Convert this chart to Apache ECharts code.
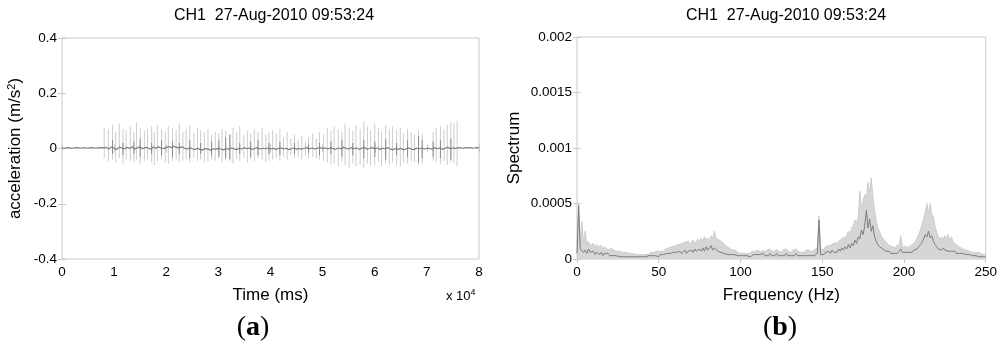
<!DOCTYPE html>
<html>
<head>
<meta charset="utf-8">
<script src="https://cdn.jsdelivr.net/npm/echarts@6/dist/echarts.min.js"></script>
<style>
  html, body { margin: 0; padding: 0; background: #fff; }
  #main { width: 1000px; height: 350px; }
</style>
</head>
<body>
<div id="main"></div>
<script>
// ---- panel (a): acceleration vs time ----
const titleText = 'CH1  27-Aug-2010 09:53:24';

// slow baseline, sampled every 500 ms from 0 to 80000
const baseStep = 500;
const baseValues = [
  0.002, 0.001, 0.003, 0.002, 0.001, 0.002, 0.003, 0.001, 0.002, 0.002, 0.001, 0.003, 0.002, 0.001, 0.002, 0.003, 0.002,
  0.004, -0.002, 0.006, 0.001, -0.003, 0.005, 0.002, -0.001, 0.004, 0.000, 0.006, -0.002, 0.003, 0.005, -0.001, 0.004, 0.002, -0.003, 0.005, 0.001, 0.006, 0.002, -0.001, 0.004,
  0.007, 0.003, 0.008, 0.004, 0.002, 0.006, 0.001, -0.002, 0.003, -0.001, -0.004, 0.001, -0.003, -0.005, 0.000, -0.002, -0.006, -0.001, -0.003, 0.001,
  -0.002, -0.005, 0.000, -0.003, 0.002, -0.001, -0.004, 0.001, -0.002, 0.003, -0.001, 0.002, -0.003, 0.000, 0.003, -0.002, 0.001, -0.001, 0.002, -0.002,
  0.001, -0.003, 0.000, 0.002, -0.002, 0.001, -0.004, -0.001, 0.002, -0.003, 0.000, -0.002, 0.001, 0.003, -0.001, 0.002, -0.002, 0.001, 0.003, 0.000,
  0.002, -0.002, 0.003, 0.000, -0.003, 0.002, -0.001, 0.004, 0.001, -0.002, 0.003, -0.001, 0.002, -0.003, 0.001, 0.004, -0.002, 0.000, 0.003, -0.001,
  0.002, -0.003, 0.001, -0.001, 0.003, -0.002, -0.004, 0.000, -0.003, 0.001, -0.005, -0.001, 0.002, -0.002, -0.004, 0.001, -0.001, 0.002, -0.002, 0.001,
  0.000, -0.002, 0.003, -0.001, 0.002, -0.003, 0.001, 0.004, -0.001, 0.002, 0.000, 0.003,
  0.002, 0.001, 0.003, 0.002, 0.002, 0.001, 0.003, 0.002
];

// light grey impulses (time in ms, peak, trough)
const spikeTimes = [
  8100, 8900, 9700, 10300, 11000, 11700, 12300, 13100, 13800, 14300,
  15000, 15800, 16400, 17200, 17700, 18300, 19100, 19800, 20400, 21200,
  21900, 22500, 23200, 23800, 24500, 25300, 26000, 26600, 27300, 28000,
  28700, 29400, 30100, 30700, 31400, 32200, 32800, 33500, 34100, 34900,
  35600, 36200, 36900, 37600, 38400, 39100, 39700, 40400, 41100, 41800,
  42500, 43200, 43900, 44600, 45300, 46000, 46700, 47300, 48100, 48800,
  49400, 50200, 50900, 51600, 52200, 53000, 53700, 54300, 55100, 55800,
  56400, 57200, 57900, 58600, 59200, 60000, 60700, 61300, 62100, 62800,
  63400, 64200, 64900, 65500, 66300, 67000, 67600, 68400, 69100,
  71200, 71800, 72600, 73300, 73900, 74600, 75200, 75800
];
const spikeHigh = [
  0.075, 0.07, 0.085, 0.06, 0.09, 0.07, 0.065, 0.08, 0.06, 0.095,
  0.075, 0.065, 0.07, 0.08, 0.06, 0.085, 0.07, 0.06, 0.08, 0.075,
  0.065, 0.09, 0.06, 0.07, 0.085, 0.055, 0.075, 0.065, 0.06, 0.07,
  0.05, 0.06, 0.055, 0.07, 0.065, 0.05, 0.075, 0.06, 0.08, 0.05,
  0.065, 0.055, 0.07, 0.06, 0.075, 0.05, 0.06, 0.065, 0.055, 0.07,
  0.04, 0.06, 0.035, 0.05, 0.03, 0.045, 0.025, 0.04, 0.055, 0.035,
  0.06, 0.05, 0.075, 0.065, 0.08, 0.07, 0.06, 0.09, 0.075, 0.065,
  0.085, 0.07, 0.1, 0.08, 0.065, 0.09, 0.075, 0.06, 0.085, 0.07,
  0.08, 0.065, 0.075, 0.055, 0.07, 0.06, 0.05, 0.065, 0.055,
  0.06, 0.075, 0.08, 0.07, 0.085, 0.095, 0.09, 0.1
];
const spikeLow = [
  -0.035, -0.045, -0.04, -0.05, -0.035, -0.055, -0.04, -0.045, -0.05, -0.04,
  -0.055, -0.045, -0.04, -0.05, -0.06, -0.045, -0.04, -0.05, -0.055, -0.045,
  -0.04, -0.05, -0.045, -0.04, -0.05, -0.035, -0.045, -0.04, -0.05, -0.045,
  -0.04, -0.045, -0.035, -0.05, -0.04, -0.045, -0.055, -0.04, -0.045, -0.035,
  -0.05, -0.04, -0.045, -0.035, -0.04, -0.05, -0.045, -0.04, -0.035, -0.045,
  -0.03, -0.04, -0.025, -0.035, -0.03, -0.04, -0.025, -0.035, -0.03, -0.035,
  -0.04, -0.045, -0.05, -0.06, -0.055, -0.065, -0.05, -0.06, -0.07, -0.055,
  -0.065, -0.06, -0.07, -0.055, -0.065, -0.06, -0.05, -0.065, -0.055, -0.06,
  -0.05, -0.06, -0.065, -0.05, -0.055, -0.045, -0.05, -0.06, -0.055,
  -0.045, -0.05, -0.055, -0.045, -0.06, -0.05, -0.055, -0.065
];

// darker, shorter impulses riding on the baseline
const darkTimes = [
  9700, 11700, 13800, 15000, 17200, 19100, 21200, 22500, 24500, 26600,
  28700, 30100, 31400, 32200, 34100, 36200, 37600, 39700, 41800, 44600,
  47300, 49400, 51600, 53700, 55800, 57900, 60000, 62100, 64200, 66300,
  68400, 69100, 71200, 72600, 74600
];
const darkHigh = [
  0.03, 0.02, 0.025, 0.035, 0.02, 0.03, 0.025, 0.02, 0.03, 0.02,
  0.025, 0.03, 0.04, 0.05, 0.02, 0.025, 0.03, 0.02, 0.025, 0.02,
  0.015, 0.02, 0.025, 0.03, 0.02, 0.03, 0.025, 0.035, 0.02, 0.03,
  0.045, 0.03, 0.025, 0.03, 0.035
];
const darkLow = [
  -0.02, -0.025, -0.02, -0.03, -0.02, -0.025, -0.03, -0.02, -0.035, -0.02,
  -0.025, -0.03, -0.035, -0.04, -0.02, -0.03, -0.025, -0.02, -0.025, -0.02,
  -0.015, -0.025, -0.02, -0.03, -0.025, -0.035, -0.03, -0.04, -0.025, -0.03,
  -0.05, -0.035, -0.03, -0.035, -0.04
];

// ---- panel (b): spectrum, one value per Hz from 0 to 250 ----
const specEnvelope = [
  1.2e-4, 5.0e-4, 1.5e-4, 3.4e-4, 1.4e-4, 2.5e-4, 1.3e-4, 1.6e-4, 1.2e-4, 1.1e-4,
  1.4e-4, 1.0e-4, 1.3e-4, 1.1e-4, 1.0e-4, 1.2e-4, 0.9e-4, 1.1e-4, 0.9e-4, 1.0e-4,
  0.8e-4, 1.0e-4, 0.8e-4, 0.9e-4, 0.7e-4, 0.8e-4, 0.7e-4, 0.8e-4, 0.6e-4, 0.7e-4,
  0.6e-4, 0.7e-4, 0.5e-4, 0.6e-4, 0.5e-4, 0.6e-4, 0.4e-4, 0.5e-4, 0.4e-4, 0.5e-4,
  0.4e-4, 0.5e-4, 0.4e-4, 0.5e-4, 0.4e-4, 0.6e-4, 0.5e-4, 0.6e-4, 0.5e-4, 0.7e-4,
  0.6e-4, 0.7e-4, 0.8e-4, 0.7e-4, 0.9e-4, 0.8e-4, 1.0e-4, 0.9e-4, 1.1e-4, 1.0e-4,
  1.2e-4, 1.1e-4, 1.3e-4, 1.2e-4, 1.4e-4, 1.3e-4, 1.5e-4, 1.4e-4, 1.6e-4, 1.3e-4,
  1.5e-4, 1.7e-4, 1.4e-4, 1.6e-4, 1.8e-4, 1.5e-4, 1.9e-4, 1.6e-4, 2.0e-4, 1.7e-4,
  1.9e-4, 1.6e-4, 2.1e-4, 1.8e-4, 2.5e-4, 1.9e-4, 2.0e-4, 1.7e-4, 1.8e-4, 1.5e-4,
  1.4e-4, 1.2e-4, 1.1e-4, 1.0e-4, 0.9e-4, 0.8e-4, 0.7e-4, 0.8e-4, 0.6e-4, 0.7e-4,
  0.5e-4, 0.6e-4, 0.5e-4, 0.6e-4, 0.5e-4, 0.6e-4, 0.5e-4, 0.7e-4, 0.6e-4, 0.7e-4,
  0.6e-4, 0.8e-4, 0.6e-4, 0.7e-4, 0.8e-4, 0.6e-4, 0.8e-4, 0.7e-4, 0.9e-4, 0.7e-4,
  0.8e-4, 0.7e-4, 0.9e-4, 0.7e-4, 0.8e-4, 0.6e-4, 0.8e-4, 0.7e-4, 0.9e-4, 0.7e-4,
  0.8e-4, 0.6e-4, 0.8e-4, 0.7e-4, 0.9e-4, 0.7e-4, 0.8e-4, 0.6e-4, 0.7e-4, 0.6e-4,
  0.8e-4, 0.7e-4, 0.8e-4, 0.6e-4, 0.7e-4, 0.8e-4, 0.7e-4, 1.0e-4, 3.9e-4, 0.9e-4,
  1.0e-4, 0.8e-4, 1.1e-4, 1.0e-4, 1.2e-4, 1.1e-4, 1.3e-4, 1.2e-4, 1.5e-4, 1.3e-4,
  1.6e-4, 1.5e-4, 1.8e-4, 2.0e-4, 1.8e-4, 2.2e-4, 2.5e-4, 2.3e-4, 2.8e-4, 3.0e-4,
  3.5e-4, 3.2e-4, 3.8e-4, 6.1e-4, 4.5e-4, 5.2e-4, 5.8e-4, 5.5e-4, 6.9e-4, 6.0e-4,
  7.3e-4, 5.6e-4, 4.4e-4, 3.4e-4, 2.8e-4, 2.5e-4, 2.1e-4, 1.9e-4, 1.7e-4, 1.5e-4,
  1.4e-4, 1.2e-4, 1.3e-4, 1.1e-4, 1.2e-4, 1.0e-4, 1.3e-4, 1.1e-4, 2.1e-4, 1.2e-4,
  1.0e-4, 1.2e-4, 1.0e-4, 1.1e-4, 1.2e-4, 1.3e-4, 1.4e-4, 1.6e-4, 1.7e-4, 2.2e-4,
  2.6e-4, 3.1e-4, 3.6e-4, 4.2e-4, 5.0e-4, 4.1e-4, 5.0e-4, 4.0e-4, 3.8e-4, 2.9e-4,
  2.4e-4, 2.0e-4, 1.8e-4, 2.0e-4, 1.7e-4, 2.1e-4, 1.8e-4, 2.2e-4, 1.6e-4, 2.0e-4,
  1.5e-4, 1.4e-4, 1.3e-4, 1.2e-4, 1.1e-4, 1.0e-4, 0.9e-4, 1.0e-4, 0.8e-4, 0.9e-4,
  0.7e-4, 0.8e-4, 0.6e-4, 0.7e-4, 0.6e-4, 0.5e-4, 0.6e-4, 0.5e-4, 0.4e-4, 0.5e-4,
  0.4e-4
];
const specMean = [
  0.5e-4, 4.8e-4, 0.9e-4, 1.0e-4, 0.6e-4, 0.8e-4, 0.5e-4, 0.9e-4, 0.6e-4, 0.5e-4,
  0.7e-4, 0.4e-4, 0.6e-4, 0.5e-4, 0.4e-4, 0.6e-4, 0.3e-4, 0.5e-4, 0.4e-4, 0.5e-4,
  0.3e-4, 0.4e-4, 0.3e-4, 0.4e-4, 0.3e-4, 0.4e-4, 0.2e-4, 0.3e-4, 0.2e-4, 0.3e-4,
  0.2e-4, 0.3e-4, 0.2e-4, 0.3e-4, 0.2e-4, 0.2e-4, 0.2e-4, 0.3e-4, 0.2e-4, 0.2e-4,
  0.2e-4, 0.3e-4, 0.2e-4, 0.2e-4, 0.3e-4, 0.2e-4, 0.3e-4, 0.2e-4, 0.3e-4, 0.3e-4,
  0.2e-4, 0.4e-4, 0.3e-4, 0.4e-4, 0.3e-4, 0.5e-4, 0.4e-4, 0.5e-4, 0.4e-4, 0.6e-4,
  0.5e-4, 0.6e-4, 0.5e-4, 0.7e-4, 0.5e-4, 0.6e-4, 0.8e-4, 0.5e-4, 0.7e-4, 0.6e-4,
  0.8e-4, 0.6e-4, 0.9e-4, 0.7e-4, 0.6e-4, 0.9e-4, 0.7e-4, 1.0e-4, 0.7e-4, 1.1e-4,
  0.8e-4, 0.9e-4, 1.2e-4, 0.8e-4, 1.0e-4, 0.9e-4, 0.7e-4, 0.8e-4, 0.6e-4, 0.7e-4,
  0.5e-4, 0.6e-4, 0.4e-4, 0.5e-4, 0.4e-4, 0.3e-4, 0.4e-4, 0.3e-4, 0.3e-4, 0.2e-4,
  0.3e-4, 0.2e-4, 0.3e-4, 0.2e-4, 0.3e-4, 0.3e-4, 0.2e-4, 0.3e-4, 0.4e-4, 0.3e-4,
  0.4e-4, 0.3e-4, 0.4e-4, 0.3e-4, 0.5e-4, 0.3e-4, 0.4e-4, 0.3e-4, 0.5e-4, 0.3e-4,
  0.4e-4, 0.3e-4, 0.5e-4, 0.3e-4, 0.4e-4, 0.3e-4, 0.4e-4, 0.3e-4, 0.5e-4, 0.3e-4,
  0.4e-4, 0.3e-4, 0.4e-4, 0.3e-4, 0.5e-4, 0.3e-4, 0.4e-4, 0.3e-4, 0.4e-4, 0.3e-4,
  0.4e-4, 0.3e-4, 0.4e-4, 0.3e-4, 0.4e-4, 0.3e-4, 0.4e-4, 0.5e-4, 3.5e-4, 0.4e-4,
  0.5e-4, 0.4e-4, 0.6e-4, 0.5e-4, 0.7e-4, 0.5e-4, 0.8e-4, 0.6e-4, 0.7e-4, 0.6e-4,
  0.9e-4, 0.7e-4, 1.0e-4, 0.8e-4, 1.1e-4, 0.9e-4, 1.3e-4, 1.0e-4, 1.4e-4, 1.2e-4,
  1.7e-4, 1.4e-4, 2.0e-4, 1.8e-4, 2.6e-4, 2.2e-4, 3.0e-4, 4.4e-4, 2.8e-4, 3.6e-4,
  2.5e-4, 3.0e-4, 2.0e-4, 1.6e-4, 1.3e-4, 1.1e-4, 1.0e-4, 0.9e-4, 0.8e-4, 0.7e-4,
  0.6e-4, 0.7e-4, 0.5e-4, 0.6e-4, 0.5e-4, 0.6e-4, 0.5e-4, 0.7e-4, 0.9e-4, 0.6e-4,
  0.5e-4, 0.6e-4, 0.5e-4, 0.6e-4, 0.7e-4, 0.6e-4, 0.8e-4, 0.7e-4, 0.9e-4, 1.1e-4,
  1.3e-4, 1.5e-4, 1.8e-4, 2.2e-4, 2.0e-4, 2.5e-4, 1.9e-4, 2.1e-4, 1.6e-4, 1.3e-4,
  1.1e-4, 0.9e-4, 1.0e-4, 0.8e-4, 1.0e-4, 0.8e-4, 0.9e-4, 0.7e-4, 0.8e-4, 0.7e-4,
  0.6e-4, 0.7e-4, 0.5e-4, 0.6e-4, 0.5e-4, 0.4e-4, 0.5e-4, 0.4e-4, 0.4e-4, 0.3e-4,
  0.4e-4, 0.3e-4, 0.3e-4, 0.4e-4, 0.3e-4, 0.3e-4, 0.2e-4, 0.3e-4, 0.2e-4, 0.3e-4,
  0.2e-4
];
const specStep = 1; // Hz

const FONT = '"Liberation Sans", Arial, sans-serif';
const SERIF = '"Liberation Serif", "Times New Roman", serif';
const frame = '#c9c9c9';
const lightGrey = '#cdcdcd';
const darkGrey = '#7d7d7d';

const baseData = baseValues.map((v, i) => [i * baseStep, v]);
const spikeData = spikeTimes.map((t, i) => [t, spikeHigh[i], spikeLow[i]]);
const darkData = darkTimes.map((t, i) => [t, darkHigh[i], darkLow[i]]);
const envData = specEnvelope.map((v, i) => [i * specStep, v]);
const meanData = specMean.map((v, i) => [i * specStep, v]);

function impulse(color) {
  return function (params, api) {
    const top = api.coord([api.value(0), api.value(1)]);
    const bot = api.coord([api.value(0), api.value(2)]);
    return {
      type: 'line',
      shape: { x1: top[0], y1: top[1], x2: bot[0], y2: bot[1] },
      style: { stroke: color, lineWidth: 1 }
    };
  };
}

const tickLabel = { color: '#000', fontFamily: FONT, fontSize: 13.5 };
const nameStyle = {
  color: '#000', fontFamily: FONT, fontSize: 17,
  rich: { sup: { fontFamily: FONT, fontSize: 11, verticalAlign: 'top', padding: [0, 0, 8, 0] } }
};

function mainX(gridIndex, max, interval, name, fmt) {
  return {
    type: 'value', gridIndex, min: 0, max, interval,
    name, nameLocation: 'middle', nameGap: 28, nameTextStyle: nameStyle,
    axisLine: { show: false },
    axisTick: { inside: true, length: 4, lineStyle: { color: frame } },
    axisLabel: Object.assign({ margin: 6, formatter: fmt }, tickLabel),
    splitLine: { show: false }
  };
}
function mainY(gridIndex, min, max, interval, name, gap) {
  return {
    type: 'value', gridIndex, min, max, interval,
    name, nameLocation: 'middle', nameGap: gap, nameTextStyle: nameStyle,
    axisLine: { show: false },
    axisTick: { show: true, inside: true, length: 4, lineStyle: { color: frame } },
    axisLabel: Object.assign({ margin: 5 }, tickLabel),
    splitLine: { show: false }
  };
}
function mirror(gridIndex, min, max, interval, position) {
  return {
    type: 'value', gridIndex, min, max, interval, position,
    axisLine: { show: false },
    axisTick: { show: true, inside: true, length: 4, lineStyle: { color: frame } },
    axisLabel: { show: false },
    splitLine: { show: false }
  };
}

const panelTag = (x, letter) => ({
  type: 'text', x, y: 328,
  style: {
    text: '(' + '{b|' + letter + '}' + ')', align: 'center', verticalAlign: 'middle',
    fontFamily: SERIF, fontSize: 28, fill: '#000',
    rich: { b: { fontFamily: SERIF, fontSize: 28, fontWeight: 'bold' } }
  }
});

const chart = echarts.init(document.getElementById('main'), null, { renderer: 'canvas' });

chart.setOption({
  animation: false,
  backgroundColor: '#fff',
  title: [
    { text: titleText, left: 269, top: 3, textAlign: 'center',
      textStyle: { fontFamily: FONT, fontSize: 16, fontWeight: 'normal', color: '#000' } },
    { text: titleText, left: 781, top: 3, textAlign: 'center',
      textStyle: { fontFamily: FONT, fontSize: 16, fontWeight: 'normal', color: '#000' } }
  ],
  grid: [
    { left: 62, top: 38, width: 417, height: 221, show: true, borderColor: frame, borderWidth: 1, backgroundColor: 'transparent' },
    { left: 577, top: 37, width: 409, height: 222, show: true, borderColor: frame, borderWidth: 1, backgroundColor: 'transparent' }
  ],
  xAxis: [
    mainX(0, 80000, 10000, 'Time (ms)', v => String(v / 10000)),
    mainX(1, 250, 50, 'Frequency (Hz)'),
    mirror(0, 0, 80000, 10000, 'top'),
    mirror(1, 0, 250, 50, 'top')
  ],
  yAxis: [
    mainY(0, -0.4, 0.4, 0.2, 'acceleration (m/s{sup|2})', 37),
    mainY(1, 0, 0.002, 0.0005, 'Spectrum', 54),
    mirror(0, -0.4, 0.4, 0.2, 'right'),
    mirror(1, 0, 0.002, 0.0005, 'right')
  ],
  graphic: [
    { type: 'text', left: 446, top: 288,
      style: { text: 'x 10{s|4}', fontFamily: FONT, fontSize: 13, fill: '#000',
        rich: { s: { fontFamily: FONT, fontSize: 9, verticalAlign: 'top', padding: [0, 0, 7, 0] } } } },
    panelTag(253, 'a'),
    panelTag(780, 'b')
  ],
  series: [
    { type: 'custom', xAxisIndex: 0, yAxisIndex: 0, data: spikeData,
      encode: { x: 0, y: [1, 2] }, renderItem: impulse(lightGrey), silent: true },
    { type: 'line', xAxisIndex: 0, yAxisIndex: 0, data: baseData, showSymbol: false,
      lineStyle: { color: darkGrey, width: 1.2 }, silent: true },
    { type: 'custom', xAxisIndex: 0, yAxisIndex: 0, data: darkData,
      encode: { x: 0, y: [1, 2] }, renderItem: impulse('#8a8a8a'), silent: true },
    { type: 'line', xAxisIndex: 1, yAxisIndex: 1, data: envData, showSymbol: false,
      lineStyle: { color: lightGrey, width: 1 }, areaStyle: { color: '#d6d6d6', opacity: 1 }, silent: true },
    { type: 'line', xAxisIndex: 1, yAxisIndex: 1, data: meanData, showSymbol: false,
      lineStyle: { color: darkGrey, width: 1 }, silent: true }
  ]
});
</script>
</body>
</html>
